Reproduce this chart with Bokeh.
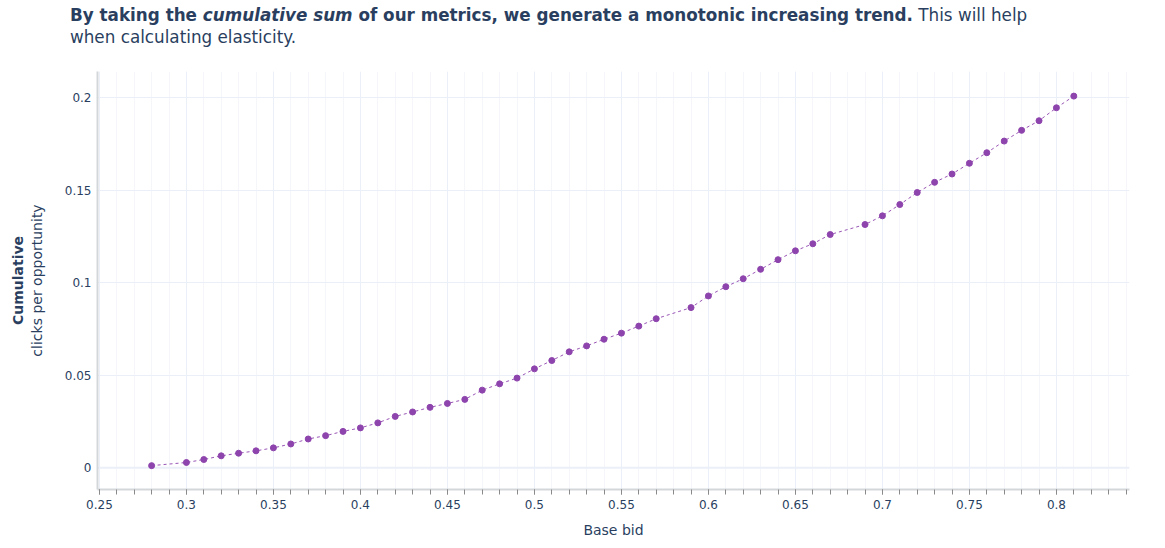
import numpy as np
from bokeh.plotting import figure
from bokeh.models import (Div, Span, FixedTicker, NumeralTickFormatter,
                          ColumnDataSource, Range1d, LinearAxis)
from bokeh.layouts import column
from bokeh.embed import file_html
from bokeh.resources import INLINE

# ---------------- data ----------------
base_bid = [0.28, 0.30, 0.31, 0.32, 0.33, 0.34, 0.35, 0.36, 0.37, 0.38,
            0.39, 0.40, 0.41, 0.42, 0.43, 0.44, 0.45, 0.46, 0.47, 0.48,
            0.49, 0.50, 0.51, 0.52, 0.53, 0.54, 0.55, 0.56, 0.57, 0.59,
            0.60, 0.61, 0.62, 0.63, 0.64, 0.65, 0.66, 0.67, 0.69, 0.70,
            0.71, 0.72, 0.73, 0.74, 0.75, 0.76, 0.77, 0.78, 0.79, 0.80,
            0.81]
cum_clicks = [0.0012, 0.0029, 0.0045, 0.0065, 0.0079, 0.0092, 0.0108, 0.0129, 0.0156, 0.0174,
              0.0197, 0.0216, 0.0243, 0.0278, 0.0302, 0.0327, 0.0348, 0.0370, 0.0420, 0.0454,
              0.0485, 0.0535, 0.0580, 0.0627, 0.0659, 0.0695, 0.0728, 0.0766, 0.0806, 0.0866,
              0.0929, 0.0979, 0.1022, 0.1073, 0.1125, 0.1173, 0.1211, 0.1261, 0.1315, 0.1362,
              0.1423, 0.1488, 0.1543, 0.1588, 0.1646, 0.1703, 0.1766, 0.1824, 0.1876, 0.1946,
              0.2009]

x_tick_values = [0.25, 0.3, 0.35, 0.4, 0.45, 0.5, 0.55, 0.6, 0.65, 0.7, 0.75, 0.8]
x_minor_values = [round(0.25 + 0.01 * i, 2) for i in range(60)]
y_tick_values = [0, 0.05, 0.1, 0.15, 0.2]

title_bold_1 = "By taking the "
title_bold_italic = "cumulative sum"
title_bold_2 = " of our metrics, we generate a monotonic increasing trend."
title_rest_1 = " This will help"
title_rest_2 = "when calculating elasticity."
y_title_bold = "Cumulative"
y_title = "clicks per opportunity"
x_title = "Base bid"

# ---------------- style ----------------
FONT = "DejaVu Sans"
TXT = "#2a3f5f"
PURPLE = "#8e44ad"
GRID = "#ebf0f8"
MINOR_GRID = "#f4f6fa"
AXIS = "#d4d7da"

div = Div(
    text=(
        f'<div style="font-family:\'{FONT}\'; font-size:16.8px; line-height:22px; '
        f'color:{TXT}; padding-left:70px; position:relative; top:3.5px; white-space:nowrap;">'
        f'<b>{title_bold_1}<i>{title_bold_italic}</i>{title_bold_2}</b>{title_rest_1}<br>'
        f'{title_rest_2}</div>'
    ),
    width=1157, height=63, margin=(0, 0, 0, 0),
)

p = figure(width=1157, height=477, output_backend="svg", toolbar_location=None,
           x_range=Range1d(0.2489, 0.842), y_range=Range1d(-0.0117, 0.2142),
           min_border_left=97, min_border_right=28, min_border_top=8,
           min_border_bottom=50)
p.outline_line_color = None
p.background_fill_color = "white"
p.border_fill_color = "white"

# axes
p.xaxis.ticker = FixedTicker(ticks=x_tick_values, minor_ticks=x_minor_values)
p.yaxis.ticker = FixedTicker(ticks=y_tick_values)
p.xaxis.formatter = NumeralTickFormatter(format="0.[00]")
p.yaxis.formatter = NumeralTickFormatter(format="0.[00]")

for ax in (p.xaxis, p.yaxis):
    ax.axis_line_color = AXIS
    ax.axis_line_width = 2
    ax.major_label_text_font = FONT
    ax.major_label_text_font_size = "12px"
    ax.major_label_text_color = TXT

p.xaxis.major_tick_out = 5
p.xaxis.major_tick_in = 0
p.xaxis.minor_tick_out = 5
p.xaxis.minor_tick_in = 0
p.xaxis.major_tick_line_color = "#8a8a8a"
p.xaxis.minor_tick_line_color = "#8a8a8a"
p.xaxis.major_label_standoff = 5
p.xaxis.axis_label = x_title
p.xaxis.axis_label_text_font = FONT
p.xaxis.axis_label_text_font_size = "14px"
p.xaxis.axis_label_text_font_style = "normal"
p.xaxis.axis_label_text_color = TXT
p.xaxis.axis_label_standoff = 10

p.yaxis.major_tick_out = 0
p.yaxis.major_tick_in = 0
p.yaxis.minor_tick_line_color = None
p.yaxis.major_tick_line_color = None
p.yaxis.major_label_standoff = 6
p.yaxis.axis_label = y_title
p.yaxis.axis_label_text_font = FONT
p.yaxis.axis_label_text_font_size = "14px"
p.yaxis.axis_label_text_font_style = "normal"
p.yaxis.axis_label_text_color = TXT
p.yaxis.axis_label_standoff = 17

# outer axis carrying the bold first line of the y title
outer = LinearAxis(ticker=FixedTicker(ticks=[]), axis_label=y_title_bold,
                   axis_label_text_font=FONT, axis_label_text_font_size="14px",
                   axis_label_text_font_style="bold", axis_label_text_color=TXT,
                   axis_label_standoff=0, axis_line_color=None,
                   major_tick_line_color=None, minor_tick_line_color=None,
                   major_tick_out=0, minor_tick_out=0, major_label_standoff=0)
p.add_layout(outer, "left")

# grids
p.xgrid.grid_line_color = GRID
p.xgrid.minor_grid_line_color = MINOR_GRID
p.ygrid.grid_line_color = GRID
p.add_layout(Span(location=0, dimension="width", line_color=GRID, line_width=2,
                  level="underlay"))

src = ColumnDataSource(dict(x=base_bid, y=cum_clicks))
p.line("x", "y", source=src, line_color=PURPLE, line_width=1, line_dash="3 3",
       line_alpha=0.9)
p.scatter("x", "y", source=src, size=6, fill_color=PURPLE, line_color=PURPLE)

layout = column(div, p, spacing=0)
open("out.html", "w").write(file_html(layout, INLINE))
